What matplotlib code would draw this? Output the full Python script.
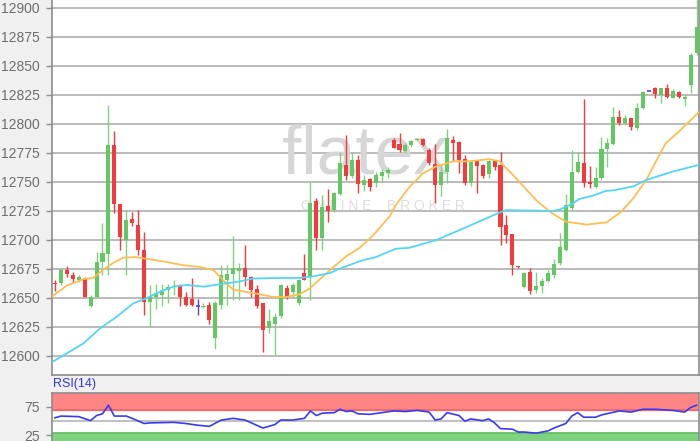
import matplotlib
matplotlib.use('Agg')
import matplotlib.pyplot as plt
import numpy as np

# candle data, oldest first
opens = [12663, 12662.7, 12674.3, 12669.9, 12665, 12666.6, 12642.5, 12650.7, 12681, 12688,
         12782, 12730.5, 12700, 12717.8, 12713, 12691, 12646.4, 12650.7, 12652, 12657,
         12659.5, 12661, 12650.7, 12648.7, 12643, 12642, 12644, 12615, 12644, 12665,
         12670, 12673, 12675.5, 12668, 12657.5, 12645, 12624, 12627.5, 12634, 12658,
         12654.5, 12645.5, 12671, 12668.5, 12733, 12701.5, 12729, 12725.6, 12739.5, 12764.5,
         12754.6, 12769, 12747, 12752.6, 12749, 12754.6, 12757.5, 12785.6, 12782.8, 12776.7,
         12781.9, 12786.2, 12787, 12777.6, 12765.2, 12747.4, 12758.3, 12786.2, 12784.2, 12769.8,
         12748.9, 12767.5, 12764, 12756.6, 12767.5, 12764.7, 12712.4, 12704.9, 12677.5, 12659.5,
         12672.5, 12656.7, 12660, 12664.7, 12669.6, 12679.7, 12691, 12727, 12758.6, 12766.4,
         12750, 12745.7, 12752.9, 12777.9, 12782.5, 12805.4, 12800.6, 12804.6, 12796, 12813.2,
         12828.4, 12830.4, 12824.7, 12830.4, 12822.4, 12827.6, 12821.3, 12833.3, 12860.6]
highs = [12665, 12675.2, 12677.2, 12672.2, 12669.5, 12668, 12652, 12689.6, 12714, 12816.4,
         12793.3, 12731, 12725.6, 12723.6, 12725.6, 12707, 12660.8, 12662, 12662, 12662,
         12665, 12662, 12655, 12666.6, 12649, 12645, 12646.4, 12647, 12678, 12678,
         12703, 12680, 12695.7, 12669, 12661, 12645.5, 12640, 12637, 12661.5, 12661,
         12663, 12666.5, 12688, 12750, 12736, 12738.5, 12743.5, 12741.5, 12776, 12790,
         12776, 12773.3, 12756, 12753, 12758, 12761, 12763, 12787.6, 12792, 12783,
         12786, 12788, 12787.6, 12779, 12782.5, 12764.7, 12795.4, 12789, 12785, 12773.3,
         12769, 12768, 12765, 12769, 12769, 12775.6, 12721.6, 12705, 12677.5, 12672.5,
         12675.3, 12672.5, 12666.7, 12673.9, 12683.1, 12706.1, 12739.4, 12777.3, 12775.9, 12821,
         12763.5, 12763, 12788.8, 12787.3, 12814, 12811.8, 12807.5, 12805, 12817.5, 12828,
         12828.5, 12831.3, 12830.4, 12834.2, 12829.6, 12828.4, 12825.6, 12860.6, 12910]
lows = [12656, 12661, 12668, 12663, 12663.6, 12650.5, 12642, 12650.5, 12669.5, 12669.5,
        12722.8, 12691, 12669.5, 12712, 12686.7, 12635, 12625, 12640, 12643, 12645,
        12652, 12643, 12642.5, 12642.5, 12635, 12641, 12627.7, 12606, 12640, 12644,
        12648, 12648, 12660, 12651, 12641, 12603.5, 12620, 12601, 12632.5, 12649,
        12650, 12644, 12665, 12648, 12691, 12691, 12715.5, 12724, 12738.5, 12751.7,
        12753, 12740, 12741.7, 12741.7, 12745, 12750, 12753, 12779, 12776, 12775,
        12780, 12785, 12780.4, 12764.7, 12731.6, 12737.4, 12748.9, 12767.5, 12757.5, 12747.4,
        12746, 12740.2, 12753, 12753, 12760, 12695.7, 12697.1, 12669.8, 12676, 12658,
        12653, 12653.8, 12653.8, 12663.9, 12666.7, 12678.2, 12690, 12725.6, 12757.2, 12745.7,
        12744.2, 12744.2, 12751.4, 12763, 12781.6, 12798.8, 12798.8, 12794.5, 12794.5, 12813,
        12828.3, 12822.4, 12817.5, 12822.4, 12821.8, 12821.8, 12815.2, 12826.1, 12859]
closes = [12661.5, 12673.5, 12670.8, 12666.2, 12668, 12650.7, 12650.5, 12681, 12688.8, 12782,
          12730.5, 12702.6, 12717, 12714, 12691, 12646, 12650.7, 12654, 12657, 12659.5,
          12660.5, 12650.7, 12644, 12644, 12643, 12643, 12630.6, 12645, 12669.8, 12670,
          12675.5, 12675.5, 12667.5, 12657, 12642.5, 12622.3, 12629.5, 12633, 12661, 12651,
          12661, 12665, 12665.5, 12732, 12701.3, 12728.5, 12725, 12740, 12766, 12754.5,
          12768.4, 12748, 12751.7, 12745, 12756, 12758.3, 12760.3, 12779, 12777.6, 12781.9,
          12784.8, 12787, 12781.3, 12766, 12747.4, 12758, 12787.6, 12783.3, 12769, 12748.9,
          12767.5, 12763.2, 12754.6, 12767.5, 12762.4, 12710.6, 12704.3, 12678.4, 12676.3, 12671,
          12656, 12660, 12664.7, 12671.6, 12679, 12693.5, 12730, 12758.6, 12767.2, 12748.6,
          12748, 12752.9, 12777.9, 12783.6, 12805.4, 12800.3, 12804.6, 12797.4, 12813.2, 12827.6,
          12828.4, 12825.6, 12830.4, 12823.3, 12828.4, 12822.7, 12822.7, 12859.2, 12883.6]

# moving averages, sampled at bar positions
ma_fast_pos = [-0.5, 2, 4.8, 6.4, 8.1, 9.8, 11.5, 13.5, 15.4, 18.2, 21.6, 24.4, 26.7, 28.3,
               30, 32.2, 34.5, 36.7, 38.9, 41.2, 42.9, 44.6, 46.8, 49, 51.3, 53.6, 56.4, 57.4,
               59.6, 61.9, 64.1, 67, 69.7, 73.1, 74.8, 76.5, 78.5, 81.2, 83.7, 86, 89.5, 92.9,
               95.3, 97.4, 99.6, 100.6, 102.8, 105, 108.4]
ma_fast = [12651, 12660.5, 12666, 12667, 12674, 12680, 12684.5, 12685, 12683.5, 12681.3,
           12678, 12676.5, 12673.8, 12665, 12657, 12655, 12653, 12650.6, 12650.6, 12653,
           12658, 12666, 12676, 12685.6, 12693, 12704, 12720.5, 12730, 12745, 12757,
           12763, 12767.5, 12767.5, 12769.5, 12767.5, 12759, 12748, 12733, 12722.7, 12715.5,
           12713, 12715, 12724, 12736, 12752, 12762, 12783, 12793, 12810]
ma_slow_pos = [-0.5, 2, 4.8, 7.6, 10.4, 13.2, 15.4, 17.7, 19.9, 22.2, 25, 27.8, 31.1, 33.3,
               37.8, 41.2, 43.5, 46.3, 47.9, 51.6, 54, 57.4, 59.6, 61, 64.1, 67.5, 70.9, 74.2,
               75.9, 78.5, 81.5, 83.5, 85, 87.3, 88.2, 90.6, 92.7, 94, 97.4, 99.5, 103.9, 108.4]
ma_slow = [12594.5, 12602, 12610.7, 12623.6, 12633.6, 12645.2, 12649.5, 12655.2, 12659.5, 12661,
           12659.5, 12661.6, 12664, 12666.5, 12667, 12667, 12668.4, 12671.3, 12675, 12682,
           12685, 12692.2, 12693, 12695, 12699.5, 12707, 12714.5, 12722, 12725.5, 12725.2,
           12725, 12724.5, 12726, 12731.5, 12735, 12738, 12742, 12742.5, 12746, 12751.4,
           12758.6, 12764.5]

# RSI(14)
rsi_pos = [0, 1, 4, 6, 7, 8, 9, 10, 12, 13, 15, 16, 20, 22, 24, 26, 28, 30, 32, 35, 37, 38,
           40, 42, 43, 44, 45, 47, 48, 49, 50, 51, 53, 55, 57, 59, 61, 63, 64, 65, 66, 68, 69,
           70, 72, 73, 74, 75, 77, 78, 79, 81, 83, 84, 86, 87, 88, 89, 91, 92, 95, 97, 99, 101,
           104, 106, 107, 108]
rsi = [56, 59, 58, 51, 60, 63, 78, 59, 59, 55, 46, 47, 48, 46, 43, 41, 52, 55, 52, 38, 44, 52,
       52, 55, 68, 60, 64, 65, 71, 67, 68, 63, 62, 65, 68, 67, 69, 66, 52, 54, 65, 60, 50,
       54, 51, 54, 47, 37, 36, 31, 31, 29, 33, 38, 46, 59, 65, 57, 57, 61, 68, 66, 71, 71,
       69, 66, 74, 78]

price_ticks = [12600, 12625, 12650, 12675, 12700, 12725, 12750, 12775, 12800, 12825, 12850, 12875, 12900]
rsi_ticks = [25, 75]

GREEN = '#62c962'
GREEN_WICK = '#7fd37f'
RED = '#f43a3a'
DOJI = '#5b3fd6'
GRID = '#b5b5b5'
SPINE = '#8c8c8c'
TICKC = '#6e6e6e'

plt.rcParams['font.family'] = ['Liberation Sans', 'DejaVu Sans']

fig = plt.figure(figsize=(7.0, 4.41), dpi=100, facecolor='#f0f0f0')
W, H = 700, 441
ax = fig.add_axes([52 / W, 66.5 / H, 646.5 / W, 374.5 / H])
ax_rsi = fig.add_axes([52 / W, -8.7 / H, 646.5 / W, 57 / H])

o = np.array(opens)
c = np.array(closes)
hi = np.array(highs)
lo = np.array(lows)
x = np.arange(len(o))
up = c > o
down = c < o
flat = c == o

# wicks
ax.vlines(x[up], lo[up], hi[up], color=GREEN_WICK, lw=1.0, zorder=3)
ax.vlines(x[down], lo[down], hi[down], color=RED, lw=1.0, zorder=3)
ax.vlines(x[flat], lo[flat], hi[flat], color=DOJI, lw=1.0, zorder=3)
# bodies
ax.bar(x[up], (c - o)[up], bottom=o[up], width=0.68, color=GREEN, zorder=4)
ax.bar(x[down], (o - c)[down], bottom=c[down], width=0.68, color=RED, zorder=4)
ax.hlines(o[flat], x[flat] - 0.34, x[flat] + 0.34, color=DOJI, lw=1.2, zorder=4)

ax.plot(ma_fast_pos, ma_fast, color='#fdbf50', lw=1.3, zorder=5)
ax.plot(ma_slow_pos, ma_slow, color='#52d6f6', lw=1.3, zorder=5)

# watermark
ax.text(0.485, 0.585, 'flatex', transform=ax.transAxes, fontsize=50, color='#d6d6d6',
        ha='center', va='center', zorder=1)
ax.text(0.512, 0.45, 'O N L I N E    B R O K E R', transform=ax.transAxes, fontsize=10,
        color='#dedede', ha='center', va='center', zorder=1)

ax.set_xlim(-0.5, 108.33)
ax.set_ylim(12583.8, 12906.6)
ax.set_yticks(price_ticks)
ax.yaxis.grid(True, color=GRID, lw=1.3, zorder=0)
ax.set_axisbelow(True)
ax.set_xticks([])
ax.tick_params(axis='y', colors=SPINE, length=4, width=1, labelcolor=TICKC, labelsize=10, pad=5)
ax.spines['top'].set_visible(False)
for s in ['left', 'bottom', 'right']:
    ax.spines[s].set_color(SPINE)
    ax.spines[s].set_linewidth(1.2)

# RSI panel
ax_rsi.axhspan(70, 100, color='#ff8585', zorder=1)
ax_rsi.axhline(70, color='#e56a6a', lw=1.2, zorder=2)
ax_rsi.axhspan(0, 30, color='#7fd27f', zorder=1)
ax_rsi.axhline(30, color='#5fbf5f', lw=1.2, zorder=2)
ax_rsi.axhline(50, color=GRID, lw=1.2, zorder=2)
ax_rsi.plot(rsi_pos, rsi, color='#3a3af0', lw=1.2, zorder=3)
ax_rsi.set_xlim(-0.5, 108.33)
ax_rsi.set_ylim(0, 100)
ax_rsi.set_yticks(rsi_ticks)
ax_rsi.set_xticks([])
ax_rsi.tick_params(axis='y', colors=SPINE, length=4, width=1, labelcolor=TICKC, labelsize=10, pad=5)
for s in ax_rsi.spines.values():
    s.set_color(SPINE)
    s.set_linewidth(1.2)

fig.text(53 / W, 1 - 384 / H, 'RSI(14)', color='#3333ee', fontsize=9, ha='left', va='center')

fig.savefig('out.png', dpi=100, facecolor=fig.get_facecolor())
